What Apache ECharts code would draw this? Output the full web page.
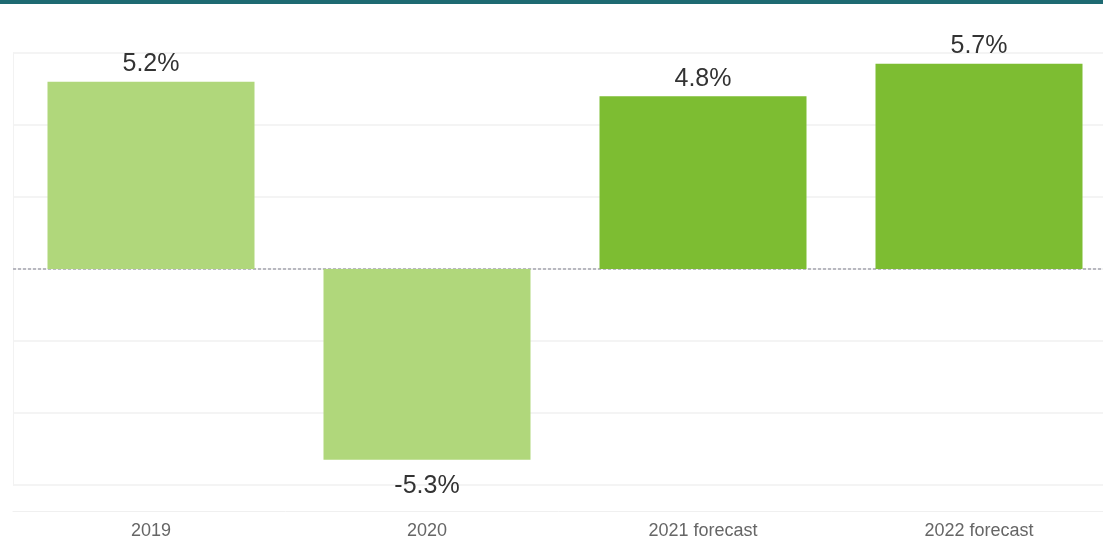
<!DOCTYPE html>
<html>
<head>
<meta charset="utf-8">
<script src="https://cdn.jsdelivr.net/npm/echarts@6/dist/echarts.min.js"></script>
<style>
	html, body { margin: 0; padding: 0; background: #fff; }
	#chart { width: 1103px; height: 538px; }
</style>
</head>
<body>
<div id="chart"></div>
<script>
// 数据
const categories = ['2019', '2020', '2021 forecast', '2022 forecast']
const growth = [5.2, -5.3, 4.8, 5.7]
const barColors = ['#b0d77b', '#b0d77b', '#7dbd32', '#7dbd32']

const myChart = echarts.init(document.getElementById('chart'))

const option = {
	animation: false,
	backgroundColor: '#fff',
	graphic: [
		{
			type: 'rect',
			left: 0,
			top: 0,
			shape: { width: 1103, height: 4 },
			style: { fill: '#1e6a72' },
		},
	],
	grid: {
		left: 13,
		width: 1104,
		top: 53,
		height: 432,
		containLabel: false,
		outerBoundsMode: 'none',
	},
	xAxis: {
		type: 'category',
		data: categories,
		position: 'bottom',
		offset: 26,
		axisLine: { show: true, onZero: false, lineStyle: { color: '#f0f0f0' } },
		axisTick: { show: false },
		axisLabel: {
			color: '#666',
			fontSize: 18,
			fontFamily: 'Liberation Sans, Arial, sans-serif',
			margin: 11,
		},
	},
	yAxis: {
		type: 'value',
		min: -6,
		max: 6,
		interval: 2,
		axisLine: { show: true, lineStyle: { color: '#f2f2f2' } },
		axisTick: { show: false },
		axisLabel: { show: false },
		splitLine: { show: true, lineStyle: { color: '#f0f0f0', width: 1.5 } },
	},
	series: [
		{
			type: 'bar',
			barWidth: 207,
			data: growth.map((v, i) => ({
				value: v,
				itemStyle: { color: barColors[i] },
				label: v < 0 ? { position: 'bottom', distance: 14 } : { position: 'top', distance: 5 },
			})),
			label: {
				show: true,
				color: '#333',
				fontSize: 25,
				fontFamily: 'Liberation Sans, Arial, sans-serif',
				formatter: (p) => p.value.toFixed(1) + '%',
			},
			markLine: {
				silent: true,
				symbol: ['none', 'none'],
				label: { show: false },
				lineStyle: { color: '#b8b8c0', type: [3, 2], width: 2 },
				data: [{ yAxis: 0 }],
				z: 1,
			},
		},
	],
}

myChart.setOption(option)
</script>
</body>
</html>
